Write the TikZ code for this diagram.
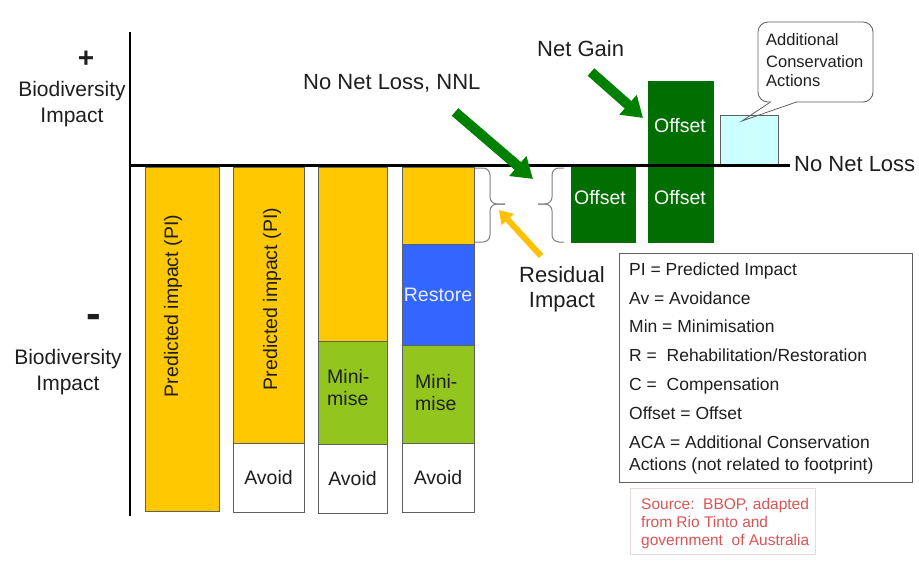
\documentclass[tikz,border=0pt]{standalone}
\usepackage{fontspec}
\setmainfont{Liberation Sans}
\usetikzlibrary{arrows.meta}
\definecolor{ybar}{RGB}{255,200,0}
\definecolor{lime}{RGB}{146,198,30}
\definecolor{rblue}{RGB}{51,102,255}
\definecolor{offgreen}{RGB}{0,110,0}
\definecolor{arrgreen}{RGB}{0,128,0}
\definecolor{gold}{RGB}{255,192,0}
\definecolor{acacyan}{RGB}{204,255,255}
\definecolor{srcred}{RGB}{215,85,85}
\definecolor{srcborder}{RGB}{235,215,215}
\definecolor{ink}{RGB}{30,30,30}
\definecolor{edge}{RGB}{95,95,95}
\begin{document}
\begin{tikzpicture}[x=1pt,y=-1pt,
  every node/.style={inner sep=0pt, text=ink},
  sz/.style 2 args={minimum width=#1pt, minimum height=#2pt},
  bar/.style={draw=edge, line width=0.8pt},
  f22/.style={font=\fontsize{22}{25}\selectfont},
  f20/.style={font=\fontsize{19.5}{22}\selectfont},
  f17/.style={font=\fontsize{17.5}{20}\selectfont},
  f16/.style={font=\fontsize{16.5}{20}\selectfont},
  f15/.style={font=\fontsize{15.5}{18}\selectfont},
  axisline/.style={draw=black, line width=2.2pt},
  bigarrow/.style={draw=arrgreen, line width=10pt, -{Triangle[length=20pt,width=25pt]}},
  goldarrow/.style={draw=gold, line width=6pt, -{Triangle[length=13pt,width=16pt]}},
  bracestyle/.style={draw=gray, line width=1pt, rounded corners=7pt},
]
\path[use as bounding box] (0,0) rectangle (919,578);

% axes
\coordinate (axtop) at (130,32);
\coordinate (axbot) at (130,516);
\coordinate (hl) at (130,165.5);
\coordinate (hr) at (790,165.5);

% bar 1
\node[bar, fill=ybar, sz={74}{344}] (b1) at (182,339) {};
\node[f20, rotate=90] (b1t) at (173,306) {Predicted impact (PI)};
% bar 2
\node[bar, fill=ybar, sz={71}{276}] (b2y) at (268.5,305) {};
\node[bar, fill=white, sz={71}{69}, f20] (b2a) at (268.5,477.5) {Avoid};
\node[f20, rotate=90] (b2t) at (272,299) {Predicted impact (PI)};
% bar 3
\node[bar, fill=ybar, sz={69}{174}] (b3y) at (352.5,254) {};
\node[bar, fill=lime, sz={69}{103}] (b3m) at (352.5,392.5) {};
\node[bar, fill=white, sz={69}{69}, f20] (b3a) at (352.5,478.5) {Avoid};
\node[anchor=west, align=left, font=\fontsize{19.5}{22}\selectfont] (b3mt) at (327,387.5) {Mini-\\mise};
% bar 4
\node[bar, fill=ybar, sz={72}{77}] (b4y) at (438,205.5) {};
\node[bar, fill=rblue, sz={72}{101}, f20, text=white!92!blue] (b4r) at (438,294.5) {Restore};
\node[bar, fill=lime, sz={72}{98}] (b4m) at (438,394) {};
\node[bar, fill=white, sz={72}{69}, f20] (b4a) at (438,477.5) {Avoid};
\node[anchor=west, align=left, font=\fontsize{19.5}{22}\selectfont] (b4mt) at (415,393) {Mini-\\mise};

% offsets
\node[fill=offgreen, sz={65}{76}] (off1) at (603.5,205) {};
\node[f20, text=white] (off1t) at (600,198) {Offset};
\node[fill=offgreen, sz={66}{85}] (off2) at (681,123.5) {};
\node[f20, text=white] (off2t) at (680,126) {Offset};
\node[fill=offgreen, sz={66}{77}] (off3) at (681,204.5) {};
\node[f20, text=white] (off3t) at (680,198) {Offset};
\node[draw=edge, line width=0.7pt, fill=acacyan, sz={58}{50}] (aca) at (749,140) {};

% axis lines drawn over
\draw[axisline] (axtop) -- (axbot);
\draw[axisline] (hl) -- (hr);
\node[f22, anchor=base west] (nnlr) at (794,171) {No Net Loss};

% braces
\coordinate (brAtip) at (505,204);
\coordinate (brBtip) at (538,204);
\draw[bracestyle] (475,168) -- (490,168) -- (490,204) -- (brAtip);
\draw[bracestyle] (brAtip) -- (490,204) -- (490,242) -- (475,242);
\draw[bracestyle] (564,168) -- (552,168) -- (552,204) -- (brBtip);
\draw[bracestyle] (brBtip) -- (552,204) -- (552,242) -- (564,242);

% arrows
\coordinate (nnlS) at (455,112);
\coordinate (nnlE) at (533,179);
\draw[bigarrow] (nnlS) -- (nnlE);
\coordinate (ngS) at (591,72);
\coordinate (ngE) at (643,118);
\draw[bigarrow] (ngS) -- (ngE);
\coordinate (riS) at (541,256);
\coordinate (riE) at (499,210);
\draw[goldarrow] (riS) -- (riE);

% side labels
\node[font=\bfseries\fontsize{28}{28}\selectfont] (plus) at (86,59) {+};
\node[align=center, font=\fontsize{21}{25.7}\selectfont, anchor=base] (bioU) at (72,122) {Biodiversity\\Impact};
\node[font=\bfseries\fontsize{44}{44}\selectfont] (minus) at (94,321) {-};
\node[align=center, font=\fontsize{21}{26}\selectfont, anchor=base] (bioL) at (68,390) {Biodiversity\\Impact};

\node[f22, anchor=base west] (nnlt) at (303,90) {No Net Loss, NNL};
\node[f22, anchor=base west] (ngt) at (537,57) {Net Gain};
\node[align=center, font=\fontsize{22}{25}\selectfont, anchor=base] (rit) at (562,307) {Residual\\Impact};

% callout
\node[draw=edge, line width=0.8pt, rounded corners=10pt, fill=white, sz={115}{80}] (call) at (815.5,62) {};
\fill[white] (771,100.6) rectangle (796,103);
\coordinate (cpt) at (742,121);
\draw[draw=edge, line width=0.8pt] (770.5,102) -- (cpt) -- (796.5,102);
\node[f16, anchor=base west] (c1) at (766,46) {Additional};
\node[f16, anchor=base west] (c2) at (766,67) {Conservation};
\node[f16, anchor=base west] (c3) at (766,87) {Actions};

% legend
\node[draw=edge, line width=1pt, sz={293}{229}] (legend) at (765.5,367.5) {};
\node[f17, anchor=base west] (l1) at (629,275) {PI = Predicted Impact};
\node[f17, anchor=base west] (l2) at (629,304) {Av = Avoidance};
\node[f17, anchor=base west] (l3) at (629,332.5) {Min = Minimisation};
\node[f17, anchor=base west] (l4) at (629,361.5) {R =\ \ Rehabilitation/Restoration};
\node[f17, anchor=base west] (l5) at (629,390) {C =\ \ Compensation};
\node[f17, anchor=base west] (l6) at (629,419) {Offset = Offset};
\node[f17, anchor=base west] (l7) at (629,448) {ACA = Additional Conservation};
\node[f17, anchor=base west] (l8) at (629,470) {Actions (not related to footprint)};

% source
\node[draw=srcborder, line width=0.8pt, sz={185}{66}] (src) at (722.5,521) {};
\node[f15, anchor=base west, text=srcred] (s1) at (641,509) {Source:\ \ BBOP, adapted};
\node[f15, anchor=base west, text=srcred] (s2) at (641,527) {from Rio Tinto and};
\node[f15, anchor=base west, text=srcred] (s3) at (641,545) {government\ \ of Australia};
\end{tikzpicture}
\end{document}
